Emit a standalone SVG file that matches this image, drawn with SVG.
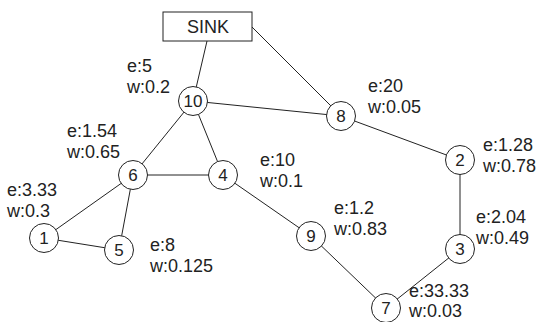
<svg xmlns="http://www.w3.org/2000/svg" width="539" height="322" viewBox="0 0 539 322">
<style>
.e{stroke:#222;stroke-width:1;fill:none}
.n circle{fill:#fff;stroke:#222;stroke-width:1}
.n text{font-family:"Liberation Sans",Arial,sans-serif;font-size:17px;fill:#222;text-anchor:middle}
.l{font-family:"Liberation Sans",Arial,sans-serif;font-size:18px;fill:#222}
</style>
<rect width="539" height="322" fill="#fff"/>
<g id="connectors">
<line class="e" x1="207" y1="41" x2="193" y2="101"/>
<line class="e" x1="252" y1="27" x2="341" y2="116"/>
<line class="e" x1="193" y1="101" x2="341" y2="116"/>
<line class="e" x1="193" y1="101" x2="133" y2="175"/>
<line class="e" x1="193" y1="101" x2="223" y2="175"/>
<line class="e" x1="133" y1="175" x2="223" y2="175"/>
<line class="e" x1="133" y1="175" x2="44" y2="238"/>
<line class="e" x1="133" y1="175" x2="119" y2="250"/>
<line class="e" x1="44" y1="238" x2="119" y2="250"/>
<line class="e" x1="223" y1="175" x2="311" y2="236"/>
<line class="e" x1="311" y1="236" x2="386" y2="308"/>
<line class="e" x1="386" y1="308" x2="460" y2="249"/>
<line class="e" x1="460" y1="249" x2="460" y2="160"/>
<line class="e" x1="341" y1="116" x2="460" y2="160"/>
</g>
<g id="sink">
<rect x="163" y="12" width="89" height="29" fill="#fff" stroke="#222" stroke-width="1"/>
<text x="208" y="33" font-family="Liberation Sans,Arial,sans-serif" font-size="18" fill="#222" text-anchor="middle">SINK</text>
</g>
<g id="node10" class="n"><circle cx="193" cy="101" r="14.5"/><text x="193" y="107">10</text></g>
<g id="node8" class="n"><circle cx="341" cy="116" r="14.5"/><text x="341" y="122">8</text></g>
<g id="node2" class="n"><circle cx="460" cy="160" r="14.5"/><text x="460" y="166">2</text></g>
<g id="node3" class="n"><circle cx="460" cy="249" r="14.5"/><text x="460" y="255">3</text></g>
<g id="node7" class="n"><circle cx="386" cy="308" r="14.5"/><text x="386" y="314">7</text></g>
<g id="node9" class="n"><circle cx="311" cy="236" r="14.5"/><text x="311" y="242">9</text></g>
<g id="node4" class="n"><circle cx="223" cy="175" r="14.5"/><text x="223" y="181">4</text></g>
<g id="node6" class="n"><circle cx="133" cy="175" r="14.5"/><text x="133" y="181">6</text></g>
<g id="node1" class="n"><circle cx="44" cy="238" r="14.5"/><text x="44" y="244">1</text></g>
<g id="node5" class="n"><circle cx="119" cy="250" r="14.5"/><text x="119" y="256">5</text></g>
<g id="labels">
<text class="l" x="127" y="72">e:5</text><text class="l" x="127" y="93">w:0.2</text>
<text class="l" x="67" y="137">e:1.54</text><text class="l" x="67" y="158">w:0.65</text>
<text class="l" x="368" y="92">e:20</text><text class="l" x="368" y="113">w:0.05</text>
<text class="l" x="483" y="151">e:1.28</text><text class="l" x="483" y="172">w:0.78</text>
<text class="l" x="260" y="166">e:10</text><text class="l" x="260" y="187">w:0.1</text>
<text class="l" x="334" y="214">e:1.2</text><text class="l" x="334" y="235">w:0.83</text>
<text class="l" x="476" y="223">e:2.04</text><text class="l" x="476" y="244">w:0.49</text>
<text class="l" x="409" y="297">e:33.33</text><text class="l" x="409" y="317">w:0.03</text>
<text class="l" x="150" y="251">e:8</text><text class="l" x="150" y="272">w:0.125</text>
<text class="l" x="7" y="196">e:3.33</text><text class="l" x="7" y="217">w:0.3</text>
</g>
</svg>
